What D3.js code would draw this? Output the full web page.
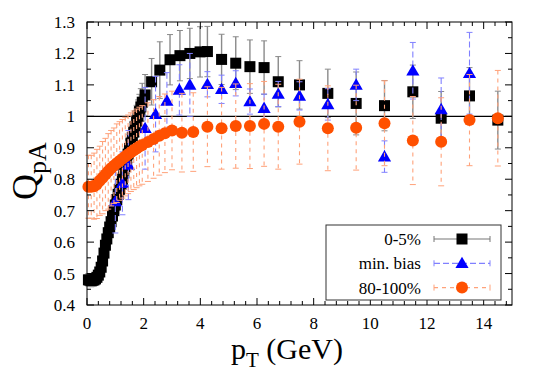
<!DOCTYPE html>
<html>
<head>
<meta charset="utf-8">
<script src="https://cdn.jsdelivr.net/npm/d3@7/dist/d3.min.js"></script>
<style>
html,body{margin:0;padding:0;background:#fff;}
svg{display:block;}
</style>
</head>
<body>
<svg id="chart" width="545" height="382" font-family="'Liberation Serif', 'DejaVu Serif', 'Times New Roman', serif"></svg>
<script>
// ---- data ----
const seriesNames = ["0-5%", "min. bias", "80-100%"];

const pt05 = [0.05,0.10,0.15,0.20,0.25,0.30,0.35,0.40,0.45,0.50,0.55,0.60,0.65,0.70,0.75,0.80,0.85,0.90,0.95,1.00,
  1.05,1.10,1.15,1.20,1.25,1.30,1.35,1.40,1.45,1.50,1.55,1.60,1.65,1.70,1.75,1.80,1.85,1.90,1.95,
  2.05,2.28,2.57,2.93,3.28,3.63,3.99,4.25,4.75,5.25,5.75,6.25,6.75,7.5,8.5,9.5,10.5,11.5,12.5,13.5,14.5];
const q05 = [0.480,0.479,0.478,0.479,0.480,0.483,0.488,0.495,0.505,0.520,0.540,0.565,0.590,0.610,0.630,0.648,0.665,0.683,0.700,0.718,
  0.735,0.752,0.768,0.784,0.800,0.820,0.840,0.860,0.880,0.898,0.915,0.933,0.950,0.968,0.985,1.000,1.015,1.030,1.045,
  1.068,1.110,1.147,1.180,1.193,1.200,1.205,1.206,1.181,1.169,1.158,1.155,1.110,1.100,1.073,1.041,1.034,1.078,0.994,1.065,0.988];
const e05 = [0.020,0.020,0.020,0.020,0.020,0.020,0.020,0.020,0.020,0.022,0.025,0.025,0.025,0.028,0.030,0.030,0.030,0.030,0.030,0.032,
  0.035,0.035,0.035,0.038,0.040,0.040,0.040,0.042,0.045,0.045,0.045,0.048,0.050,0.050,0.050,0.052,0.055,0.058,0.060,
  0.065,0.074,0.090,0.080,0.080,0.080,0.080,0.080,0.080,0.084,0.085,0.085,0.080,0.077,0.077,0.100,0.080,0.085,0.085,0.090,0.092];

const ptMB = [1.0,1.25,1.46,2.05,2.42,2.82,3.26,3.63,4.25,4.75,5.25,5.75,6.25,6.75,7.5,8.5,9.5,10.5,11.5,12.5,13.5];
const qMB  = [0.729,0.787,0.845,0.962,1.007,1.049,1.084,1.100,1.102,1.086,1.105,1.047,1.026,1.071,1.065,1.038,1.100,0.872,1.145,1.022,1.137];
const eMB  = [0.100,0.100,0.110,0.130,0.120,0.090,0.080,0.100,0.040,0.045,0.040,0.040,0.045,0.040,0.045,0.050,0.050,0.050,0.090,0.100,0.130];

const ptP = [0.05,0.15,0.25,0.35,0.45,0.55,0.65,0.75,0.85,0.95,1.05,1.15,1.25,1.35,1.45,1.55,1.65,1.75,1.85,1.95,
  2.15,2.35,2.55,2.75,3.0,3.35,3.75,4.25,4.75,5.25,5.75,6.25,6.75,7.5,8.5,9.5,10.5,11.5,12.5,13.5,14.5];
const qP = [0.776,0.776,0.778,0.785,0.795,0.805,0.815,0.825,0.835,0.843,0.851,0.858,0.865,0.872,0.879,0.886,0.892,0.898,0.904,0.909,
  0.918,0.928,0.938,0.946,0.955,0.948,0.950,0.967,0.962,0.969,0.969,0.976,0.967,0.983,0.962,0.964,0.978,0.923,0.919,0.988,0.994];
const eP = [0.100,0.100,0.105,0.110,0.110,0.115,0.115,0.120,0.120,0.120,0.125,0.125,0.125,0.125,0.125,0.125,0.125,0.125,0.125,0.125,
  0.125,0.125,0.125,0.125,0.125,0.125,0.125,0.127,0.130,0.134,0.135,0.135,0.135,0.135,0.135,0.135,0.135,0.140,0.140,0.145,0.152];

const xTickValues = [0,2,4,6,8,10,12,14];
const xTickLabels = ["0","2","4","6","8","10","12","14"];
const yTickValues = [0.4,0.5,0.6,0.7,0.8,0.9,1.0,1.1,1.2,1.3];
const yTickLabels = ["0.4","0.5","0.6","0.7","0.8","0.9","1","1.1","1.2","1.3"];

// ---- layout ----
const L = 87, R = 512, T = 22, B = 305;
const svg = d3.select("#chart");
const x = d3.scaleLinear().domain([0, 15]).range([L, R]);
const y = d3.scaleLinear().domain([0.4, 1.3]).range([B, T]);

function txt(g, s, px, py, size, anchor) {
  return g.append("text").attr("x", px).attr("y", py)
    .attr("font-size", size).attr("text-anchor", anchor || "start").text(s);
}

// reference line at 1
svg.append("line").attr("x1", L).attr("x2", R).attr("y1", y(1)).attr("y2", y(1))
  .attr("stroke", "#000").attr("stroke-width", 1.2);

// ---- series ----
function errBars(xs, ys, es, color, dash, width, cap) {
  const g = svg.append("g");
  xs.forEach((d, i) => {
    const cx = x(d), y1 = y(ys[i] + es[i]), y2 = y(ys[i] - es[i]);
    g.append("line").attr("x1", cx).attr("x2", cx).attr("y1", y1).attr("y2", y2)
      .attr("stroke", color).attr("stroke-width", width).attr("stroke-dasharray", dash);
    [y1, y2].forEach(yy => g.append("line").attr("x1", cx - cap).attr("x2", cx + cap)
      .attr("y1", yy).attr("y2", yy).attr("stroke", color).attr("stroke-width", 1));
  });
}

const col05 = "#000000", colMB = "#0000ff", colP = "#ff5000";
const bar05 = "#8a8a8a", barMB = "#8080ff", barP = "#ffa27a";

// 0-5%
errBars(pt05, q05, e05, bar05, null, 1.4, 3);
svg.append("g").selectAll("rect").data(pt05).join("rect")
  .attr("x", (d) => x(d) - 5.5).attr("y", (d, i) => y(q05[i]) - 5.5)
  .attr("width", 11).attr("height", 11).attr("fill", col05);

// min. bias
errBars(ptMB, qMB, eMB, barMB, "6,3", 1.1, 3);
const tri = d3.symbol().type(d3.symbolTriangle).size(75);
svg.append("g").selectAll("path").data(ptMB).join("path")
  .attr("d", tri).attr("transform", (d, i) => `translate(${x(d)},${y(qMB[i]) + 1})`)
  .attr("fill", colMB);

// 80-100%
errBars(ptP, qP, eP, barP, "4,4", 1.1, 3);
svg.append("g").selectAll("circle").data(ptP).join("circle")
  .attr("cx", (d) => x(d)).attr("cy", (d, i) => y(qP[i])).attr("r", 6)
  .attr("fill", colP);

// ---- frame & ticks ----
svg.append("rect").attr("x", L).attr("y", T).attr("width", R - L).attr("height", B - T)
  .attr("fill", "none").attr("stroke", "#000").attr("stroke-width", 1);

const tg = svg.append("g").attr("stroke", "#000").attr("stroke-width", 1);
const xMinor = d3.range(0, 15.01, 0.4);
xMinor.forEach(v => {
  const isMaj = Math.abs(v / 2 - Math.round(v / 2)) < 1e-6;
  const len = isMaj ? 7 : 4;
  tg.append("line").attr("x1", x(v)).attr("x2", x(v)).attr("y1", B).attr("y2", B - len);
  tg.append("line").attr("x1", x(v)).attr("x2", x(v)).attr("y1", T).attr("y2", T + len);
});
const yMinor = d3.range(0.4, 1.3001, 0.05);
yMinor.forEach(v => {
  const isMaj = Math.abs(v * 10 - Math.round(v * 10)) < 1e-6;
  const len = isMaj ? 7 : 4;
  tg.append("line").attr("x1", L).attr("x2", L + len).attr("y1", y(v)).attr("y2", y(v));
  tg.append("line").attr("x1", R).attr("x2", R - len).attr("y1", y(v)).attr("y2", y(v));
});

const lab = svg.append("g");
xTickValues.forEach((v, i) => txt(lab, xTickLabels[i], x(v), 329, 17, "middle"));
yTickValues.forEach((v, i) => txt(lab, yTickLabels[i], 75, y(v) + 6, 17, "end"));

// axis titles
const xt = svg.append("text").attr("x", 231).attr("y", 359).attr("font-size", 30);
xt.append("tspan").text("p");
xt.append("tspan").attr("font-size", 21).attr("dy", 8).text("T");
xt.append("tspan").attr("dy", -8).text(" (GeV)");

const yt = svg.append("text").attr("transform", "translate(37,200) rotate(-90)").attr("font-size", 36);
yt.append("tspan").text("Q");
yt.append("tspan").attr("font-size", 26).attr("dy", 9).text("pA");

// ---- legend ----
const lg = svg.append("g");
lg.append("rect").attr("x", 326).attr("y", 225).attr("width", 175).attr("height", 75)
  .attr("fill", "#fff").attr("stroke", "#333").attr("stroke-width", 1);
const legRows = [
  {c: col05, b: "#777", dash: null},
  {c: colMB, b: barMB, dash: "6,3"},
  {c: colP, b: barP, dash: "4,4"}
];
legRows.forEach((r, i) => {
  const yy = 239 + i * 24.3;
  txt(lg, seriesNames[i], 421, yy + 6, 17, "end");
  lg.append("line").attr("x1", 434).attr("x2", 490).attr("y1", yy).attr("y2", yy)
    .attr("stroke", r.b).attr("stroke-width", 1.2).attr("stroke-dasharray", r.dash);
  [434, 490].forEach(xx => lg.append("line").attr("x1", xx).attr("x2", xx)
    .attr("y1", yy - 3).attr("y2", yy + 3).attr("stroke", r.b).attr("stroke-width", 1));
  if (i === 0) lg.append("rect").attr("x", 462 - 5.5).attr("y", yy - 5.5).attr("width", 11).attr("height", 11).attr("fill", r.c);
  if (i === 1) lg.append("path").attr("d", tri).attr("transform", `translate(462,${yy + 1})`).attr("fill", r.c);
  if (i === 2) lg.append("circle").attr("cx", 462).attr("cy", yy).attr("r", 6).attr("fill", r.c);
});
</script>
</body>
</html>
